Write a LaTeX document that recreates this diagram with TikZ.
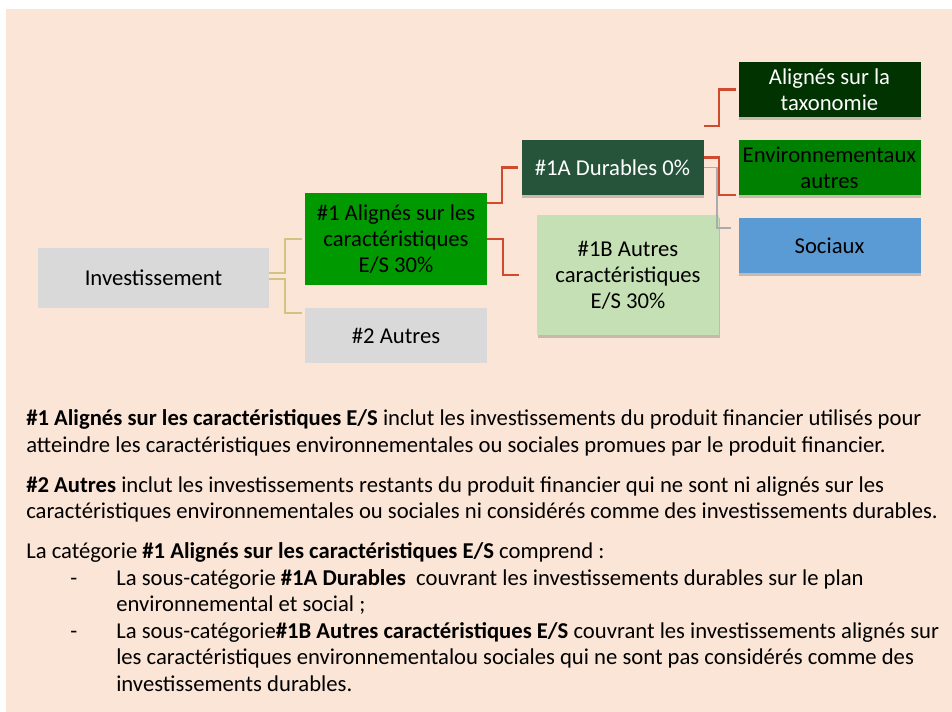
\documentclass[tikz,border=0pt]{standalone}
\usepackage{fontspec}
\setmainfont{Carlito}
\usetikzlibrary{calc, shadows}
\definecolor{peach}{HTML}{FBE5D6}
\definecolor{boxgray}{HTML}{D9D9D9}
\definecolor{esgreen}{HTML}{009900}
\definecolor{durgreen}{HTML}{26543B}
\definecolor{lightgreen}{HTML}{C5E0B4}
\definecolor{taxgreen}{HTML}{003300}
\definecolor{envgreen}{HTML}{008000}
\definecolor{socblue}{HTML}{5B9BD5}
\definecolor{tancol}{HTML}{D2C382}
\definecolor{redcol}{HTML}{D04B2D}
\definecolor{graycol}{HTML}{ABABAB}
\newcommand{\paralines}[1]{\begin{tabular}[t]{@{}l@{}}#1\end{tabular}}
\tikzset{
x=0.75pt, y=-0.75pt, % one unit is one pixel of the reference, y grows downwards
box/.style={rectangle, minimum width=136.5pt, minimum height=41.25pt, inner sep=1pt, align=center, font=\fontsize{17}{19.5}\selectfont}, % every box of the tree
shadowed/.style={drop shadow={shadow xshift=0.5pt, shadow yshift=-2.5pt, opacity=0.2, fill=black}}, % soft shadow under the right boxes
tanline/.style={draw=tancol, line width=1.6pt}, % first level connectors
redline/.style={draw=redcol, line width=1.6pt}, % second level connectors
grayline/.style={draw=graycol, line width=1.2pt},
body/.style={anchor=base west, inner sep=0pt, font=\fontsize{17}{19.95}\selectfont}, % text below the tree
}

\begin{document}
\begin{tikzpicture}

\useasboundingbox (0,0) rectangle (952,712);
\fill[peach] (6,9) rectangle (952,712);

% tree
\node[box, fill=boxgray, minimum width=173.25pt, minimum height=45pt] at (153.5,278) (inv) {Investissement};
\node[box, fill=esgreen, minimum height=69pt] at (396,239) (n1) {\#1 Alignés sur les\\caractéristiques\\E/S 30\%};
\node[box, fill=boxgray] at (396,335.5) (n2) {\#2 Autres};

\node[box, shadowed, fill=durgreen, text=white] at (612.5,167.5) (n1a) {\#1A Durables 0\%};
\node[box, shadowed, fill=lightgreen, minimum height=90pt] at (628,275) (n1b) {\#1B Autres\\caractéristiques\\E/S 30\%};

\node[box, shadowed, fill=taxgreen, text=white] at (829.5,89.5) (tax) {Alignés sur la\\taxonomie};
\node[box, shadowed, fill=envgreen] at (829.5,167.5) (env) {Environnementaux\\autres};
\node[box, shadowed, fill=socblue] at (829.5,245.5) (soc) {Sociaux};

\draw[tanline] ($(inv.east)+(0,-5)$) -| ($(n1.west)+(-20,0)$) -- ($(n1.west)+(-3,0)$);
\draw[tanline] ($(inv.east)+(0,1)$) -| ($(n2.north west)+(-20,5)$) -- ($(n2.north west)+(-3,5)$);

\draw[redline] ($(n1.north east)+(0,10)$) -| ($(n1a.west)+(-19,0)$) -- ($(n1a.west)+(-3,0)$);
\draw[redline] (n1.east) -| ($(n1b.west)+(-34,0)$) -- ($(n1b.west)+(-18,0)$);

\draw[grayline] (n1a.east) -| ($(soc.north west)+(-21,10)$) -- ($(soc.north west)+(-7,10)$);
\draw[redline] ($(n1a.north east)+(0,-14)$) -| ($(tax.west)+(-19,0)$) -- ($(tax.west)+(-2,0)$);
\draw[redline] ($(n1a.east)+(0,-10)$) -| ($(env.south west)+(-19,0)$) -- ($(env.south west)+(-2,0)$);

% explanations
\node[body] at (26,425.5) (p1) {\paralines{\textbf{\#1 Alignés sur les caractéristiques E/S} inclut les investissements du produit financier utilisés pour\\atteindre les caractéristiques environnementales ou sociales promues par le produit financier.}};
\node[body] at (26,492) (p2) {\paralines{\textbf{\#2 Autres} inclut les investissements restants du produit financier qui ne sont ni alignés sur les\\caractéristiques environnementales ou sociales ni considérés comme des investissements durables.}};
\node[body] at (26,558.5) (p3) {La catégorie \textbf{\#1 Alignés sur les caractéristiques E/S} comprend :};

\node[body] at (70,585.1) (dash1) {-};
\node[body] at (116,585.1) (item1) {\paralines{La sous-catégorie \textbf{\#1A Durables}\ \ couvrant les investissements durables sur le plan\\environnemental et social ;}};
\node[body] at (70,638.3) (dash2) {-};
\node[body] at (116,638.3) (item2) {\paralines{La sous-catégorie\textbf{\#1B Autres caractéristiques E/S} couvrant les investissements alignés sur\\les caractéristiques environnementalou sociales qui ne sont pas considérés comme des\\investissements durables.}};

\end{tikzpicture}
\end{document}
